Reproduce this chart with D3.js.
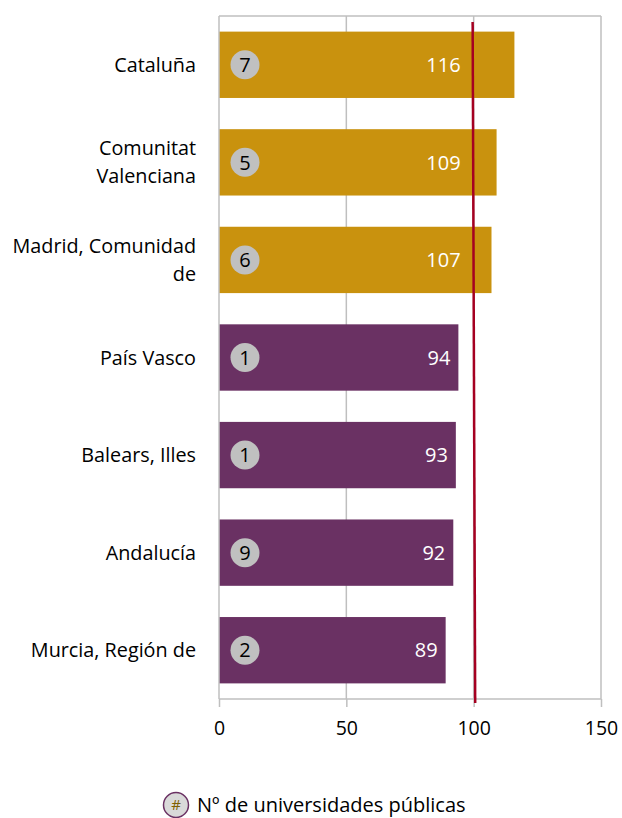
<!DOCTYPE html>
<html><head><meta charset="utf-8">
<script src="https://cdn.jsdelivr.net/npm/d3@7"></script>
<style>
body{margin:0;background:#fff;}
text{font-family:"Open Sans","Noto Sans",sans-serif;}
</style></head>
<body><svg id="c" width="622" height="818"></svg>
<script>
const categories = [["Cataluña"],["Comunitat","Valenciana"],["Madrid, Comunidad","de"],["País Vasco"],["Balears, Illes"],["Andalucía"],["Murcia, Región de"]];
const values = [116,109,107,94,93,92,89];
const universities = [7,5,6,1,1,9,2];
const groups = ["above","above","above","below","below","below","below"];
const xTicks = [0,50,100,150];
const refLine = [99.6,100.6]; // top, bottom values of the reference line
const legendLabel = "Nº de universidades públicas";

const colors = {above:"#C9920E", below:"#6A3163"};
const svg = d3.select("#c");
const m = {l:219, r:601, t:16, b:699};
const x = d3.scaleLinear().domain([0,150]).range([m.l,m.r]);
const y = d3.scaleBand().domain(d3.range(values.length)).range([m.t,m.b]).paddingInner(0.32).paddingOuter(0.16);

// grid
svg.append("g").selectAll("line").data(xTicks.slice(1)).join("line")
  .attr("x1",d=>x(d)).attr("x2",d=>x(d)).attr("y1",m.t).attr("y2",m.b)
  .attr("stroke","#BFBFBF").attr("stroke-width",1.5);
svg.append("line").attr("x1",m.l).attr("x2",m.r).attr("y1",m.t).attr("y2",m.t).attr("stroke","#BFBFBF").attr("stroke-width",1.5);

// bars
svg.append("g").selectAll("rect").data(values).join("rect")
  .attr("x",x(0)).attr("y",(d,i)=>y(i)).attr("width",d=>x(d)-x(0)).attr("height",y.bandwidth())
  .attr("fill",(d,i)=>colors[groups[i]]);

// axis
const ax = svg.append("g").attr("transform",`translate(0,${m.b})`)
  .call(d3.axisBottom(x).tickValues(xTicks).tickSize(8).tickPadding(14).tickFormat(d3.format("d")));
ax.select(".domain").attr("stroke","#BFBFBF").attr("stroke-width",1.5).attr("d",`M${m.l},0H${m.r}`);
ax.selectAll(".tick line").attr("stroke","#BFBFBF").attr("stroke-width",1.5);
ax.selectAll(".tick text").attr("font-size",19.5).attr("fill","#000").style("font-family",'"Open Sans","Noto Sans",sans-serif');
svg.append("line").attr("x1",m.l).attr("x2",m.l).attr("y1",m.t).attr("y2",m.b).attr("stroke","#BFBFBF").attr("stroke-width",1.5);

// value labels
svg.append("g").selectAll("text").data(values).join("text")
  .attr("x",d=>Math.min(x(d)-8, x(100)-13)).attr("y",(d,i)=>y(i)+y.bandwidth()/2)
  .attr("dy","0.36em").attr("text-anchor","end").attr("fill","#fff").attr("font-size",20).text(d=>d);

// circles
const cg = svg.append("g").selectAll("g").data(universities).join("g")
  .attr("transform",(d,i)=>`translate(${m.l+26},${y(i)+y.bandwidth()/2})`);
cg.append("circle").attr("r",14.5).attr("fill","#C0C0C0");
cg.append("text").attr("text-anchor","middle").attr("dy","0.36em").attr("font-size",20).attr("fill","#000").text(d=>d);

// category labels
svg.append("g").selectAll("text").data(categories).join("text")
  .attr("text-anchor","end").attr("font-size",19.8).attr("fill","#000")
  .attr("transform",(d,i)=>`translate(196,${y(i)+y.bandwidth()/2 - (d.length-1)*14})`)
  .each(function(d){
    const t=d3.select(this);
    d.forEach((s,k)=>t.append("tspan").attr("x",0).attr("y",k*28).attr("dy","0.36em").text(s));
  });

// reference line
svg.append("line").attr("x1",x(refLine[0])).attr("x2",x(refLine[1])).attr("y1",22).attr("y2",703)
  .attr("stroke","#A50021").attr("stroke-width",2.5);

// legend
const lg = svg.append("g").attr("transform","translate(176,805)");
lg.append("circle").attr("r",12.5).attr("fill","#D9D9D9").attr("stroke","#6A3163").attr("stroke-width",1.5);
lg.append("text").attr("text-anchor","middle").attr("dy","0.36em").attr("font-size",15).attr("fill","#7F5F00").text("#");
lg.append("text").attr("x",21).attr("dy","0.36em").attr("font-size",20).attr("fill","#000").text(legendLabel);
</script></body></html>
